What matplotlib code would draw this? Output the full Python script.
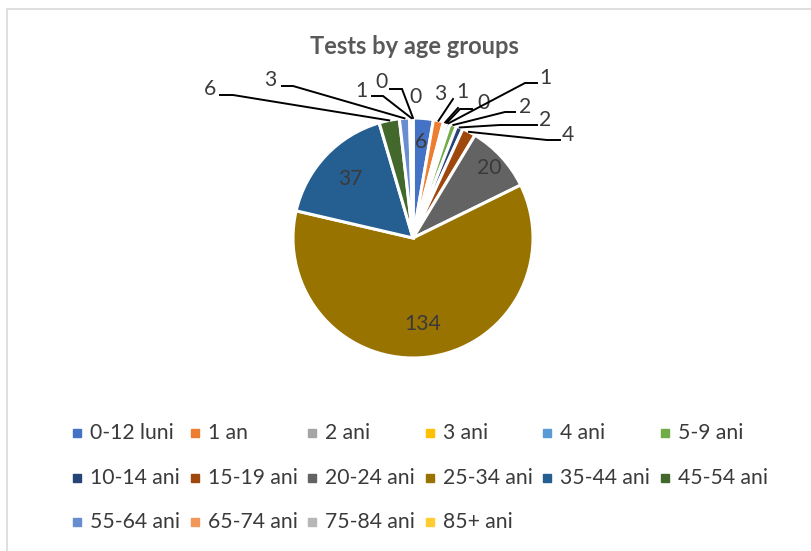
import numpy as np
import matplotlib
matplotlib.use("Agg")
import matplotlib.pyplot as plt

plt.rcParams["font.family"] = ["Lato", "DejaVu Sans"]

# data
age_groups = ["0-12 luni", "1 an", "2 ani", "3 ani", "4 ani", "5-9 ani",
              "10-14 ani", "15-19 ani", "20-24 ani", "25-34 ani", "35-44 ani", "45-54 ani",
              "55-64 ani", "65-74 ani", "75-84 ani", "85+ ani"]
tests = [6, 3, 1, 0, 1, 2, 2, 4, 20, 134, 37, 6, 3, 1, 0, 0]
colors = ["#4472C4", "#ED7D31", "#A5A5A5", "#FFC000", "#5B9BD5", "#70AD47",
          "#264478", "#9E480E", "#636363", "#997300", "#255E91", "#43682B",
          "#698ED0", "#F1975A", "#B7B7B7", "#FFCD33"]
title = "Tests by age groups"

# layout (pixel coordinates, y down)
CX, CY, R = 413, 238, 120
TXT = "#3A3A3A"
FS = 15.2
inside_r = {0: 0.80, 8: 0.86, 9: 0.72, 10: 0.72}
# index -> text x, text y, elbow x, elbow y, end of horizontal x
outside = {
    1: (440, 94, 453, 99, 453),
    2: (462, 92, 458, 108, 458),
    3: (483, 103, 460, 109, 472),
    4: (545, 78, 525, 83, 537),
    5: (525, 107, 505, 112, 515),
    6: (545, 120, 500, 125, 537),
    7: (568, 135, 547, 140, 560),
    11: (210, 89, 233, 95, 220),
    12: (270, 80, 293, 86, 282),
    13: (361, 91, 383, 96, 372),
    14: (381, 82, 402, 89, 390),
    15: (415, 97, None, None, None),
}

fig = plt.figure(figsize=(8.11, 5.51), dpi=100)
ax = fig.add_axes([0, 0, 1, 1])

# y axis runs downward, so visual clockwise from the top is data counter-clockwise from 270
ax.pie(tests, colors=colors, startangle=270, counterclock=True, radius=R, center=(CX, CY),
       wedgeprops=dict(edgecolor="white", linewidth=2.2))
ax.set_xlim(0, 811)
ax.set_ylim(551, 0)
ax.set_axis_off()

total = sum(tests)
cum = np.concatenate([[0], np.cumsum(tests)])
for i, v in enumerate(tests):
    mid = np.deg2rad(270 + (cum[i] + v / 2) / total * 360)
    if i in inside_r:
        r = inside_r[i] * R
        ax.text(CX + r * np.cos(mid), CY + r * np.sin(mid), str(v), ha="center", va="center",
                fontsize=FS, color=TXT)
    elif i in outside:
        tx, ty, ex, ey, hx = outside[i]
        ax.text(tx, ty, str(v), ha="center", va="center", fontsize=FS, color=TXT)
        if ex is not None:
            axx, ayy = CX + R * np.cos(mid), CY + R * np.sin(mid)
            ax.plot([axx, ex, hx], [ayy, ey, ey], color="black", lw=1.4,
                    solid_joinstyle="miter", zorder=3)

ax.text(414, 47, title, ha="center", va="center", fontsize=17, fontweight="bold",
        color="#595959")

# legend, 6 columns per row like the Excel layout
for i, (name, c) in enumerate(zip(age_groups, colors)):
    x = 77 + (i % 6) * 117.6
    y = 433 + (i // 6) * 44.5
    ax.plot([x], [y], marker="s", ms=5.8, color=c, linestyle="none")
    ax.text(x + 13, y, name, ha="left", va="center", fontsize=FS, color=TXT)

# chart border
ax.plot([7, 7, 812], [560, 9, 9], color="#D9D9D9", lw=1.2)

fig.savefig("out.png", dpi=100)
